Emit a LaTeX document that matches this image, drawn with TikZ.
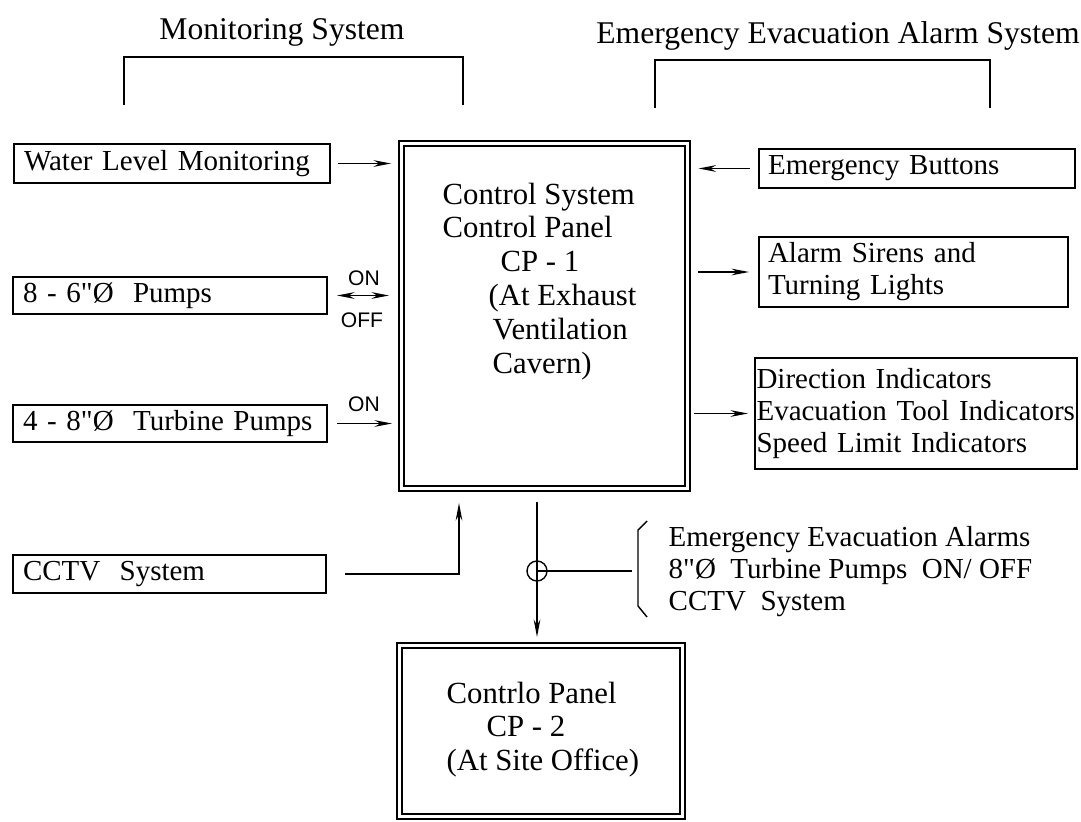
\documentclass[tikz,border=0pt]{standalone}
\usepackage{fontspec}
\setmainfont{Liberation Serif}
\setsansfont{Liberation Sans}
\usetikzlibrary{arrows.meta}

\begin{document}
\begin{tikzpicture}[x=0.02cm,y=-0.02cm,line width=0.8pt,
    >={Stealth[length=10pt,width=3.8pt]},
    txt/.style={font=\fontsize{16.5}{18.2}\selectfont},
    ttl/.style={font=\fontsize{18}{20}\selectfont,inner sep=0pt},
    cptxt/.style={font=\fontsize{17.5}{19.3}\selectfont,align=left,inner sep=0pt},
    sidebox/.style={draw,line width=1pt,txt,align=left,text width=#1,
      inner xsep=0.2cm,inner ysep=0pt,outer sep=0pt},
    panel/.style={draw,double,double distance=2pt,line width=0.8pt,outer sep=0pt},
    onoff/.style={font=\sffamily\fontsize{12}{14}\selectfont,inner sep=0pt}]
    \useasboundingbox (0,0) rectangle (1081,821);
    \def\qd{\textquotedbl}

    % Group titles and brackets.
    \node[ttl] (montitle) at (282,32) {Monitoring System};
    \node[ttl] (evactitle) at (838,36) {Emergency Evacuation Alarm System};
    \draw (124,105) |- (463,57) -- (463,105);
    \draw (655,108) |- (990,60) -- (990,108);

    % Main control panel.
    \node[panel,minimum width=5.72cm,minimum height=6.9cm] (cp1) at (544.5,316) {};
    \node[cptxt,anchor=north west] (cp1txt) at (442,182)
      {Control System\\Control Panel\\\hspace*{1.16cm}CP - 1\\
       \hspace*{0.92cm}(At Exhaust\\\hspace*{1.0cm}Ventilation\\
       \hspace*{1.0cm}Cavern)};

    % Site office panel.
    \node[panel,minimum width=5.66cm,minimum height=3.42cm] (cp2) at (541,731) {};
    \node[cptxt,anchor=north west] (cp2txt) at (446,681)
      {Contrlo Panel\\\hspace*{0.8cm}CP - 2\\(At Site Office)};

    % Monitoring inputs.
    \node[sidebox=5.92cm,minimum height=0.78cm] (water) at (172,163.5)
      {Water Level Monitoring};
    \node[sidebox=5.88cm,minimum height=0.74cm] (pumps) at (170,295.5)
      {8 - 6\qd Ø\ \ Pumps};
    \node[sidebox=5.88cm,minimum height=0.74cm] (turbine) at (170,423.5)
      {4 - 8\qd Ø\ \ Turbine Pumps};
    \node[sidebox=5.86cm,minimum height=0.76cm] (cctv) at (169.5,574)
      {CCTV\ \ System};

    \draw[->,shorten <=0.16cm,shorten >=0.21cm] (water.east) -- (water.east -| cp1.west);
    \draw[<->,shorten <=0.2cm,shorten >=0.25cm] (pumps.east) -- (pumps.east -| cp1.west);
    \draw[->,shorten <=0.2cm,shorten >=0.19cm] (turbine.east) -- (turbine.east -| cp1.west);
    \node[onoff] (pumpon) at (364,278) {ON};
    \node[onoff] (pumpoff) at (362,320) {OFF};
    \node[onoff] (turbon) at (364,404) {ON};

    \coordinate (cctvup) at (459,0);
    \draw[->,shorten >=0.29cm] ([xshift=0.38cm]cctv.east) -| (cctvup |- cp1.south);

    % Alarm system side.
    \node[sidebox=5.96cm,inner xsep=0.18cm,minimum height=0.78cm] (ebtn) at (917,168.5)
      {Emergency Buttons};
    \node[sidebox=5.82cm,inner xsep=0.18cm,minimum height=1.4cm] (sirens) at (913.5,272)
      {Alarm Sirens and\\Turning Lights};
    \node[sidebox=6.38cm,inner xsep=0.03cm,minimum height=2.22cm] (indic) at (916,413.5)
      {Direction Indicators\\Evacuation Tool Indicators\\Speed Limit Indicators};

    \draw[->,shorten <=0.18cm,shorten >=0.22cm] (ebtn.west) -- (ebtn.west -| cp1.east);
    \draw[->,shorten <=0.22cm,shorten >=0.2cm] (sirens.west -| cp1.east) -- (sirens.west);
    \draw[->,shorten <=0.14cm,shorten >=0.14cm] (indic.west -| cp1.east) -- (indic.west);

    % Link to the site office.
    \coordinate (tapx) at (537,0);
    \draw[->,shorten <=0.27cm,shorten >=0.17cm] (tapx |- cp1.south) -- (tapx |- cp2.north);
    \node[draw,circle,minimum size=0.4cm,inner sep=0pt] (tap) at (537,571) {};
    \coordinate (feedpt) at (632,571);
    \draw (tap.center) -- (feedpt);
    \draw (647,521) -- (638,530) -- (638,606) -- (647,617);
    \node[txt,align=left,anchor=west,inner sep=0pt] (feeds) at (668,572)
      {Emergency Evacuation Alarms\\8\qd Ø\ \ Turbine Pumps\ \ ON/ OFF\\CCTV\ \ System};
  \end{tikzpicture}
\end{document}
